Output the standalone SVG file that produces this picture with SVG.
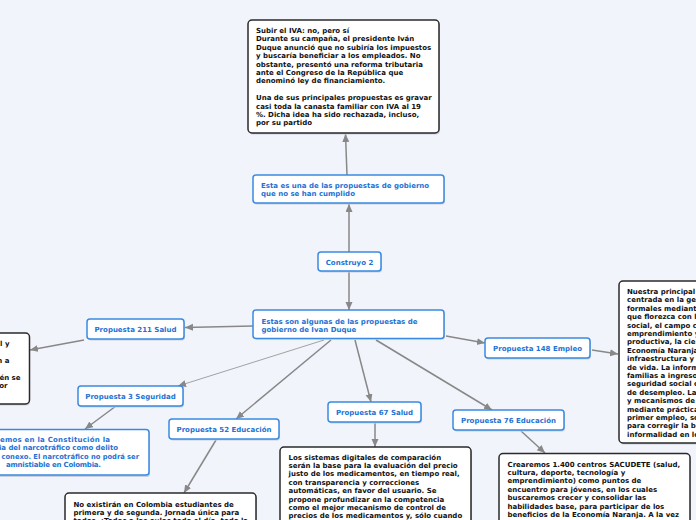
<svg xmlns="http://www.w3.org/2000/svg" width="696" height="520" viewBox="0 0 696 520">
<style>
text{font-family:"DejaVu Sans","Verdana",sans-serif;font-weight:bold;font-size:7px}
.bt{fill:#1d72d4}
.kt{fill:#111}
.bn{fill:#fff;stroke:#3a8ae2;stroke-width:1.5}
.kn{fill:#fff;stroke:#2a2a2a;stroke-width:1.5}
.sh{fill:#c9cfdc}
.c{fill:none;stroke:#888;stroke-width:1.5}
.thin{stroke-width:0.9;stroke:#999}
.mid{text-anchor:middle}
</style>
<defs>
<marker id="ah" markerUnits="userSpaceOnUse" markerWidth="9" markerHeight="8" refX="8" refY="3.5" orient="auto">
<path d="M0,0 L8,3.5 L0,7 z" fill="#888"/>
</marker>
</defs>
<rect width="696" height="520" fill="#f2f4fc"/>
<g id="connectors">
<path class="c" d="M349,252 L349,204" marker-end="url(#ah)"/>
<path class="c" d="M347,175 L345.5,134" marker-end="url(#ah)"/>
<path class="c" d="M349,271 L349,310" marker-end="url(#ah)"/>
<path class="c" d="M253,326 L185,327.5" marker-end="url(#ah)"/>
<path class="c" d="M84,340 L30,350" marker-end="url(#ah)"/>
<path class="c thin" d="M324,340 L178,386" marker-end="url(#ah)"/>
<path class="c" d="M331,340 L236,419" marker-end="url(#ah)"/>
<path class="c" d="M355,340 L371,402" marker-end="url(#ah)"/>
<path class="c" d="M376,340 L492,410" marker-end="url(#ah)"/>
<path class="c" d="M446,336 L485,343" marker-end="url(#ah)"/>
<path class="c" d="M592,350 L618,354" marker-end="url(#ah)"/>
<path class="c" d="M116,406 L85,429" marker-end="url(#ah)"/>
<path class="c" d="M216,440 L184,493" marker-end="url(#ah)"/>
<path class="c" d="M375,422 L375,447" marker-end="url(#ah)"/>
<path class="c" d="M521,431 L545,453" marker-end="url(#ah)"/>
</g>
<g id="top-box">
<rect class="sh" x="249" y="21.5" width="191" height="113" rx="4"/>
<rect class="kn" x="248" y="20" width="191" height="113" rx="4"/>
<text class="kt" x="256" y="33">Subir el IVA: no, pero sí</text>
<text class="kt" x="256" y="41.4">Durante su campaña, el presidente Iván</text>
<text class="kt" x="256" y="49.8">Duque anunció que no subiría los impuestos</text>
<text class="kt" x="256" y="58.2">y buscaría beneficiar a los empleados. No</text>
<text class="kt" x="256" y="66.6">obstante, presentó una reforma tributaria</text>
<text class="kt" x="256" y="75">ante el Congreso de la República que</text>
<text class="kt" x="256" y="83.4">denominó ley de financiamiento.</text>
<text class="kt" x="256" y="100.2">Una de sus principales propuestas es gravar</text>
<text class="kt" x="256" y="108.6">casi toda la canasta familiar con IVA al 19</text>
<text class="kt" x="256" y="117">%. Dicha idea ha sido rechazada, incluso,</text>
<text class="kt" x="256" y="125.4">por su partido</text>
</g>
<g id="no-cumplido">
<rect class="sh" x="254" y="176.5" width="191" height="28" rx="3"/>
<rect class="bn" x="253" y="175" width="191" height="28" rx="3"/>
<text class="bt" x="261" y="188">Esta es una de las propuestas de gobierno</text>
<text class="bt" x="261" y="196.4">que no se han cumplido</text>
</g>
<g id="construyo">
<rect class="sh" x="319" y="253.5" width="63" height="19" rx="3"/>
<rect class="bn" x="318" y="252" width="63" height="19" rx="3"/>
<text class="bt mid" x="349.5" y="264.5">Construyo 2</text>
</g>
<g id="main">
<rect class="sh" x="254" y="311.5" width="191" height="28" rx="3"/>
<rect class="bn" x="253" y="310" width="191" height="28.5" rx="3"/>
<text class="bt" x="261.5" y="323.5">Estas son algunas de las propuestas de</text>
<text class="bt" x="261.5" y="332">gobierno de Ivan Duque</text>
</g>
<g id="p211">
<rect class="sh" x="88" y="320.5" width="97" height="20" rx="3"/>
<rect class="bn" x="87" y="319" width="97" height="20" rx="3"/>
<text class="bt mid" x="135.5" y="332">Propuesta 211 Salud</text>
</g>
<g id="left-box">
<rect class="sh" x="-10" y="334.5" width="40" height="71" rx="4"/>
<rect class="kn" x="-10" y="333" width="39.5" height="71" rx="4"/>
<text class="kt" x="9.5" y="346" text-anchor="end">l y</text>
<text class="kt" x="9.5" y="363" text-anchor="end">n a</text>
<text class="kt" x="20.5" y="380" text-anchor="end">én se</text>
<text class="kt" x="7.5" y="388.4" text-anchor="end">or</text>
</g>
<g id="p3">
<rect class="sh" x="79" y="387.5" width="105" height="20" rx="3"/>
<rect class="bn" x="78" y="386" width="105" height="20" rx="3"/>
<text class="bt mid" x="130.5" y="399">Propuesta 3 Seguridad</text>
</g>
<g id="narco">
<rect class="sh" x="-10" y="431" width="160" height="46" rx="3"/>
<rect class="bn" x="-10" y="429.5" width="159" height="45.5" rx="3"/>
<text class="bt" x="0" y="441.5" textLength="110" lengthAdjust="spacing">emos en la Constitución la</text>
<text class="bt" x="-1" y="450" textLength="119" lengthAdjust="spacing">ia del narcotráfico como delito</text>
<text class="bt" x="1.5" y="458.5" textLength="137.5" lengthAdjust="spacingAndGlyphs">conexo. El narcotráfico no podrá ser</text>
<text class="bt" x="6" y="467" textLength="95" lengthAdjust="spacing">amnistiable en Colombia.</text>
</g>
<g id="p52">
<rect class="sh" x="170" y="420.5" width="110" height="20" rx="3"/>
<rect class="bn" x="169" y="419" width="110" height="20" rx="3"/>
<text class="bt mid" x="224" y="432">Propuesta 52 Educación</text>
</g>
<g id="p67">
<rect class="sh" x="329" y="403.5" width="93" height="20" rx="3"/>
<rect class="bn" x="328" y="402" width="93" height="20" rx="3"/>
<text class="bt mid" x="374.5" y="415">Propuesta 67 Salud</text>
</g>
<g id="p76">
<rect class="sh" x="454" y="411.5" width="111" height="20" rx="3"/>
<rect class="bn" x="453" y="410" width="111" height="20" rx="3"/>
<text class="bt mid" x="508.5" y="423">Propuesta 76 Educación</text>
</g>
<g id="p148">
<rect class="sh" x="486" y="339.5" width="105" height="20" rx="3"/>
<rect class="bn" x="485" y="338" width="105" height="20" rx="3"/>
<text class="bt mid" x="537.5" y="351">Propuesta 148 Empleo</text>
</g>
<g id="right-box">
<rect class="sh" x="620" y="282.5" width="100" height="162" rx="4"/>
<rect class="kn" x="619" y="281" width="100" height="162" rx="4"/>
<text class="kt" x="627" y="294">Nuestra principal</text>
<text class="kt" x="627" y="302.4">centrada en la ge</text>
<text class="kt" x="627" y="310.8">formales mediant</text>
<text class="kt" x="627" y="319.2">que florezca con l</text>
<text class="kt" x="627" y="327.6">social, el campo c</text>
<text class="kt" x="627" y="336">emprendimiento y</text>
<text class="kt" x="627" y="344.4">productiva, la cie</text>
<text class="kt" x="627" y="352.8">Economía Naranja</text>
<text class="kt" x="627" y="361.2">infraestructura y</text>
<text class="kt" x="627" y="369.6">de vida. La inform</text>
<text class="kt" x="627" y="378">familias a ingreso</text>
<text class="kt" x="627" y="386.4">seguridad social c</text>
<text class="kt" x="627" y="394.8">de desempleo. La</text>
<text class="kt" x="627" y="403.2">y mecanismos de</text>
<text class="kt" x="627" y="411.6">mediante práctica</text>
<text class="kt" x="627" y="420">primer empleo, so</text>
<text class="kt" x="627" y="428.4">para corregir la b</text>
<text class="kt" x="627" y="436.8">informalidad en lo</text>
</g>
<g id="bottom-left-box">
<rect class="sh" x="66" y="494.5" width="191" height="40" rx="4"/>
<rect class="kn" x="65" y="493" width="191" height="40" rx="4"/>
<text class="kt" x="73.5" y="506.5">No existirán en Colombia estudiantes de</text>
<text class="kt" x="73.5" y="514.9">primera y de segunda. Jornada única para</text>
<text class="kt" x="73.5" y="523.3">todos. ¡Todos a las aulas todo el día, todo la</text>
</g>
<g id="bottom-middle-box">
<rect class="sh" x="281" y="448.5" width="191" height="80" rx="4"/>
<rect class="kn" x="280" y="447" width="191" height="80" rx="4"/>
<text class="kt" x="288.5" y="459.5">Los sistemas digitales de comparación</text>
<text class="kt" x="288.5" y="467.9">serán la base para la evaluación del precio</text>
<text class="kt" x="288.5" y="476.3">justo de los medicamentos, en tiempo real,</text>
<text class="kt" x="288.5" y="484.7">con transparencia y correcciones</text>
<text class="kt" x="288.5" y="493.1">automáticas, en favor del usuario. Se</text>
<text class="kt" x="288.5" y="501.5">propone profundizar en la competencia</text>
<text class="kt" x="288.5" y="509.9">como el mejor mecanismo de control de</text>
<text class="kt" x="288.5" y="518.3">precios de los medicamentos y, sólo cuando</text>
</g>
<g id="bottom-right-box">
<rect class="sh" x="500" y="455" width="191" height="80" rx="4"/>
<rect class="kn" x="499" y="453.5" width="191" height="80" rx="4"/>
<text class="kt" x="507.5" y="466.5">Crearemos 1.400 centros SACUDETE (salud,</text>
<text class="kt" x="507.5" y="474.9">cultura, deporte, tecnología y</text>
<text class="kt" x="507.5" y="483.3">emprendimiento) como puntos de</text>
<text class="kt" x="507.5" y="491.7">encuentro para jóvenes, en los cuales</text>
<text class="kt" x="507.5" y="500.1">buscaremos crecer y consolidar las</text>
<text class="kt" x="507.5" y="508.5">habilidades base, para participar de los</text>
<text class="kt" x="507.5" y="516.9">beneficios de la Economía Naranja. A la vez</text>
</g>
</svg>
